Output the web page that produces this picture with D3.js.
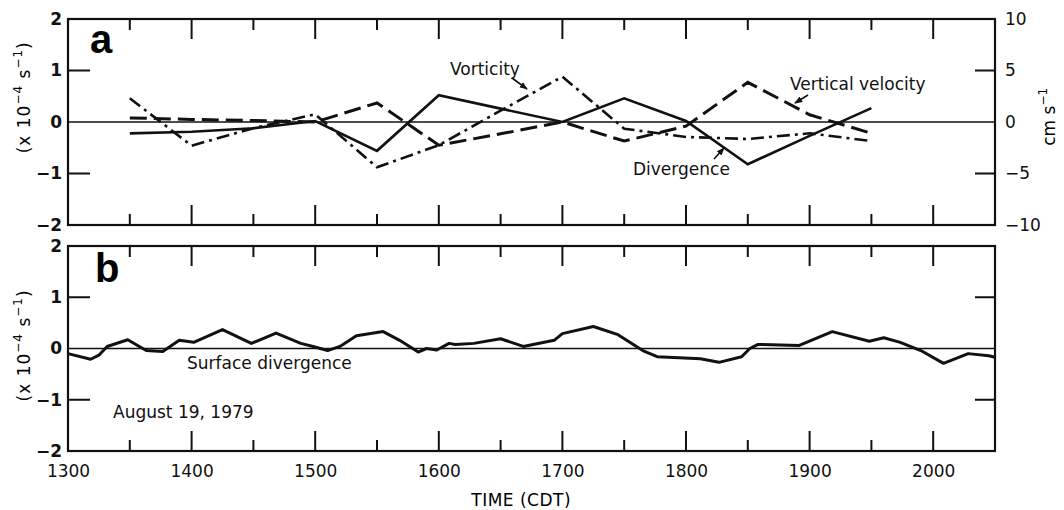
<!DOCTYPE html>
<html>
<head>
<meta charset="utf-8">
<script src="https://cdn.jsdelivr.net/npm/d3@7"></script>
<style>
body { margin: 0; background: #fff; }
</style>
</head>
<body>
<div id="chart"></div>
<script>
/* global d3 */
// panel a, half-hourly values, time as hhmm (CDT)
var timesA = [1330, 1400, 1430, 1500, 1530, 1600, 1630, 1700, 1730, 1800, 1830, 1900, 1930];
var divergence = [-0.22, -0.19, -0.12, 0.02, -0.56, 0.52, 0.26, 0.0, 0.46, 0.02, -0.82, -0.27, 0.27];
var vorticity = [0.46, -0.46, -0.12, 0.15, -0.88, -0.45, 0.22, 0.88, -0.13, -0.29, -0.33, -0.22, -0.37];
// cm s-1, right axis
var verticalVelocity = [0.4, 0.25, 0.15, 0.0, 1.85, -2.25, -1.15, 0.0, -1.85, -0.4, 3.85, 0.7, -1.1];

// panel b
var timesB = [1300, 1311, 1315, 1319, 1329, 1338, 1346, 1354, 1401, 1415, 1429, 1441, 1453, 1459,
	1506, 1512, 1520, 1533, 1541, 1550, 1554, 1559, 1605, 1608, 1617, 1630, 1641, 1656, 1700,
	1715, 1727, 1739, 1746, 1807, 1816, 1827, 1831, 1835, 1855, 1911, 1929, 1936, 1944, 1954,
	2005, 2017, 2027, 2030];
var surfaceDivergence = [-0.1, -0.21, -0.13, 0.04, 0.17, -0.04, -0.06, 0.16, 0.12, 0.37, 0.1, 0.3, 0.1, 0.04,
	-0.04, 0.04, 0.25, 0.33, 0.16, -0.07, 0.0, -0.03, 0.1, 0.08, 0.1, 0.19, 0.04, 0.16, 0.29,
	0.43, 0.27, -0.04, -0.16, -0.2, -0.27, -0.16, 0.0, 0.08, 0.06, 0.33, 0.14, 0.21, 0.12, -0.04,
	-0.29, -0.1, -0.14, -0.17];

var hourTicks = [1300, 1400, 1500, 1600, 1700, 1800, 1900, 2000];
var halfHourTicks = [1330, 1430, 1530, 1630, 1730, 1830, 1930];
var leftTicks = [-2, -1, 0, 1, 2];
var rightTicks = [-10, -5, 0, 5, 10];

var width = 1064;
var height = 510;
var ink = "#111";

function toMin(t) { return Math.floor(t / 100) * 60 + t % 100; }

var svg = d3.select("#chart").append("svg")
	.attr("width", width)
	.attr("height", height);

svg.append("defs").append("marker")
	.attr("id", "arr")
	.attr("viewBox", "0 -5 10 10")
	.attr("refX", 9)
	.attr("markerWidth", 8)
	.attr("markerHeight", 8)
	.attr("markerUnits", "userSpaceOnUse")
	.attr("orient", "auto")
	.append("path")
	.attr("d", "M0,-4L10,0L0,4Z")
	.attr("fill", ink);

var x0 = 68, x1 = 995;
var x = d3.scaleLinear().domain([toMin(1300), toMin(2030)]).range([x0, x1]);
var yA = d3.scaleLinear().domain([-2, 2]).range([225, 19]);
var yAr = d3.scaleLinear().domain([-10, 10]).range([225, 19]);
var yB = d3.scaleLinear().domain([-2, 2]).range([451, 246]);

function tidy(g) {
	g.select(".domain").remove();
	g.selectAll("text").attr("font-family", "DejaVu Sans").attr("font-size", 17).attr("fill", ink);
}

// tick stubs as small filled rects
var stubs = svg.append("g").attr("fill", ink);
function stub(rx, ry, rw, rh) {
	stubs.append("rect")
		.attr("x", Math.min(rx, rx + rw)).attr("y", Math.min(ry, ry + rh))
		.attr("width", Math.abs(rw)).attr("height", Math.abs(rh));
}

function frame(y, rightScale, rightTickVals) {
	var yTop = y.range()[1], yBot = y.range()[0];
	hourTicks.forEach(function(t) {
		stub(x(toMin(t)) - 1, yTop, 2, 20);
		stub(x(toMin(t)) - 1, yBot, 2, -20);
	});
	halfHourTicks.forEach(function(t) {
		stub(x(toMin(t)) - 1, yTop, 2, 11);
		stub(x(toMin(t)) - 1, yBot, 2, -11);
	});
	[-1, 1].forEach(function(v) { stub(x0, y(v) - 1, 22, 2); });
	rightTickVals.forEach(function(v) { stub(x1, rightScale(v) - 1, -20, 2); });
	// left labels
	svg.append("g").attr("transform", "translate(" + x0 + ",0)")
		.call(d3.axisLeft(y).tickValues(leftTicks).tickSize(0).tickPadding(6).tickFormat(d3.format("d")))
		.call(tidy)
		.selectAll("text").attr("font-weight", "bold");
	// zero line
	svg.append("line")
		.attr("x1", x0).attr("x2", x1)
		.attr("y1", y(0)).attr("y2", y(0))
		.attr("stroke", ink).attr("stroke-width", 1.3);
	svg.append("rect")
		.attr("x", x0).attr("y", yTop)
		.attr("width", x1 - x0).attr("height", yBot - yTop)
		.attr("fill", "none").attr("stroke", ink).attr("stroke-width", 2.2);
}

frame(yA, yAr, [-5, 5]);
frame(yB, yB, [-1, 1]);

// right axis labels, panel a
svg.append("g").attr("transform", "translate(" + x1 + ",0)")
	.call(d3.axisRight(yAr).tickValues(rightTicks).tickSize(0).tickPadding(10).tickFormat(d3.format("d")))
	.call(tidy);

// time labels
svg.append("g").attr("transform", "translate(0," + yB.range()[0] + ")")
	.call(d3.axisBottom(x).tickValues(hourTicks.map(toMin)).tickSize(0).tickPadding(14).tickFormat(function(m) {
		return String(Math.floor(m / 60) * 100);
	}))
	.call(tidy);

svg.append("text")
	.attr("x", x(toMin(1640))).attr("y", 506)
	.attr("text-anchor", "middle")
	.attr("font-family", "DejaVu Sans")
	.attr("font-size", 17)
	.attr("letter-spacing", 0.5)
	.text("TIME (CDT)");

// axis titles
function unitTitle(cx, cy) {
	var t = svg.append("text")
		.attr("transform", "translate(" + cx + "," + cy + ") rotate(-90)")
		.attr("text-anchor", "middle")
		.attr("font-family", "DejaVu Sans")
		.attr("font-size", 17)
		.attr("letter-spacing", 1);
	t.append("tspan").text("(x 10");
	t.append("tspan").attr("font-size", 12).attr("dy", -8).text("\u22124");
	t.append("tspan").attr("dy", 8).text(" s");
	t.append("tspan").attr("font-size", 12).attr("dy", -8).text("\u22121");
	t.append("tspan").attr("dy", 8).text(")");
}
unitTitle(30, yA(0.48));
unitTitle(30, yB(0.06));

var rt = svg.append("text")
	.attr("transform", "translate(1055," + yA(0.1) + ") rotate(-90)")
	.attr("text-anchor", "middle")
	.attr("font-family", "DejaVu Sans")
	.attr("font-size", 17);
rt.append("tspan").text("cm s");
rt.append("tspan").attr("font-size", 12).attr("dy", -8).text("\u22121");

// panel letters
svg.append("text").attr("x", 90).attr("y", 53)
	.attr("font-family", "Liberation Sans").attr("font-weight", "bold").attr("font-size", 40)
	.text("a");
svg.append("text").attr("x", 95).attr("y", 282)
	.attr("font-family", "Liberation Sans").attr("font-weight", "bold").attr("font-size", 40)
	.text("b");

// series
var lineA = d3.line().x(function(d) { return x(toMin(d[0])); }).y(function(d) { return yA(d[1]); });
var lineAr = d3.line().x(function(d) { return x(toMin(d[0])); }).y(function(d) { return yAr(d[1]); });
var lineB = d3.line().x(function(d) { return x(toMin(d[0])); }).y(function(d) { return yB(d[1]); });

svg.append("path")
	.attr("d", lineA(d3.zip(timesA, divergence)))
	.attr("fill", "none").attr("stroke", ink).attr("stroke-width", 2.6);
svg.append("path")
	.attr("d", lineA(d3.zip(timesA, vorticity)))
	.attr("fill", "none").attr("stroke", ink).attr("stroke-width", 2.6)
	.attr("stroke-dasharray", "13,5,3,5");
svg.append("path")
	.attr("d", lineAr(d3.zip(timesA, verticalVelocity)))
	.attr("fill", "none").attr("stroke", ink).attr("stroke-width", 3)
	.attr("stroke-dasharray", "17,7");
svg.append("path")
	.attr("d", lineB(d3.zip(timesB, surfaceDivergence)))
	.attr("fill", "none").attr("stroke", ink).attr("stroke-width", 3)
	.attr("stroke-linejoin", "round");

// annotations
function note(txt, tx, ty, ax1, ay1, ax2, ay2) {
	svg.append("text").attr("x", tx).attr("y", ty)
		.attr("font-family", "DejaVu Sans").attr("font-size", 17).attr("fill", ink).text(txt);
	if (ax1 != null) {
		svg.append("line")
			.attr("x1", ax1).attr("y1", ay1).attr("x2", ax2).attr("y2", ay2)
			.attr("stroke", ink).attr("stroke-width", 1.6)
			.attr("marker-end", "url(#arr)");
	}
}
note("Vorticity", 450, 75, 512, 78, 527, 89);
note("Vertical velocity", 790, 90, 808, 95, 795, 103);
note("Divergence", 633, 175, 714, 159, 724, 148);
note("Surface divergence", 187, 369);
note("August 19, 1979", 113, 418);
</script>
</body>
</html>
